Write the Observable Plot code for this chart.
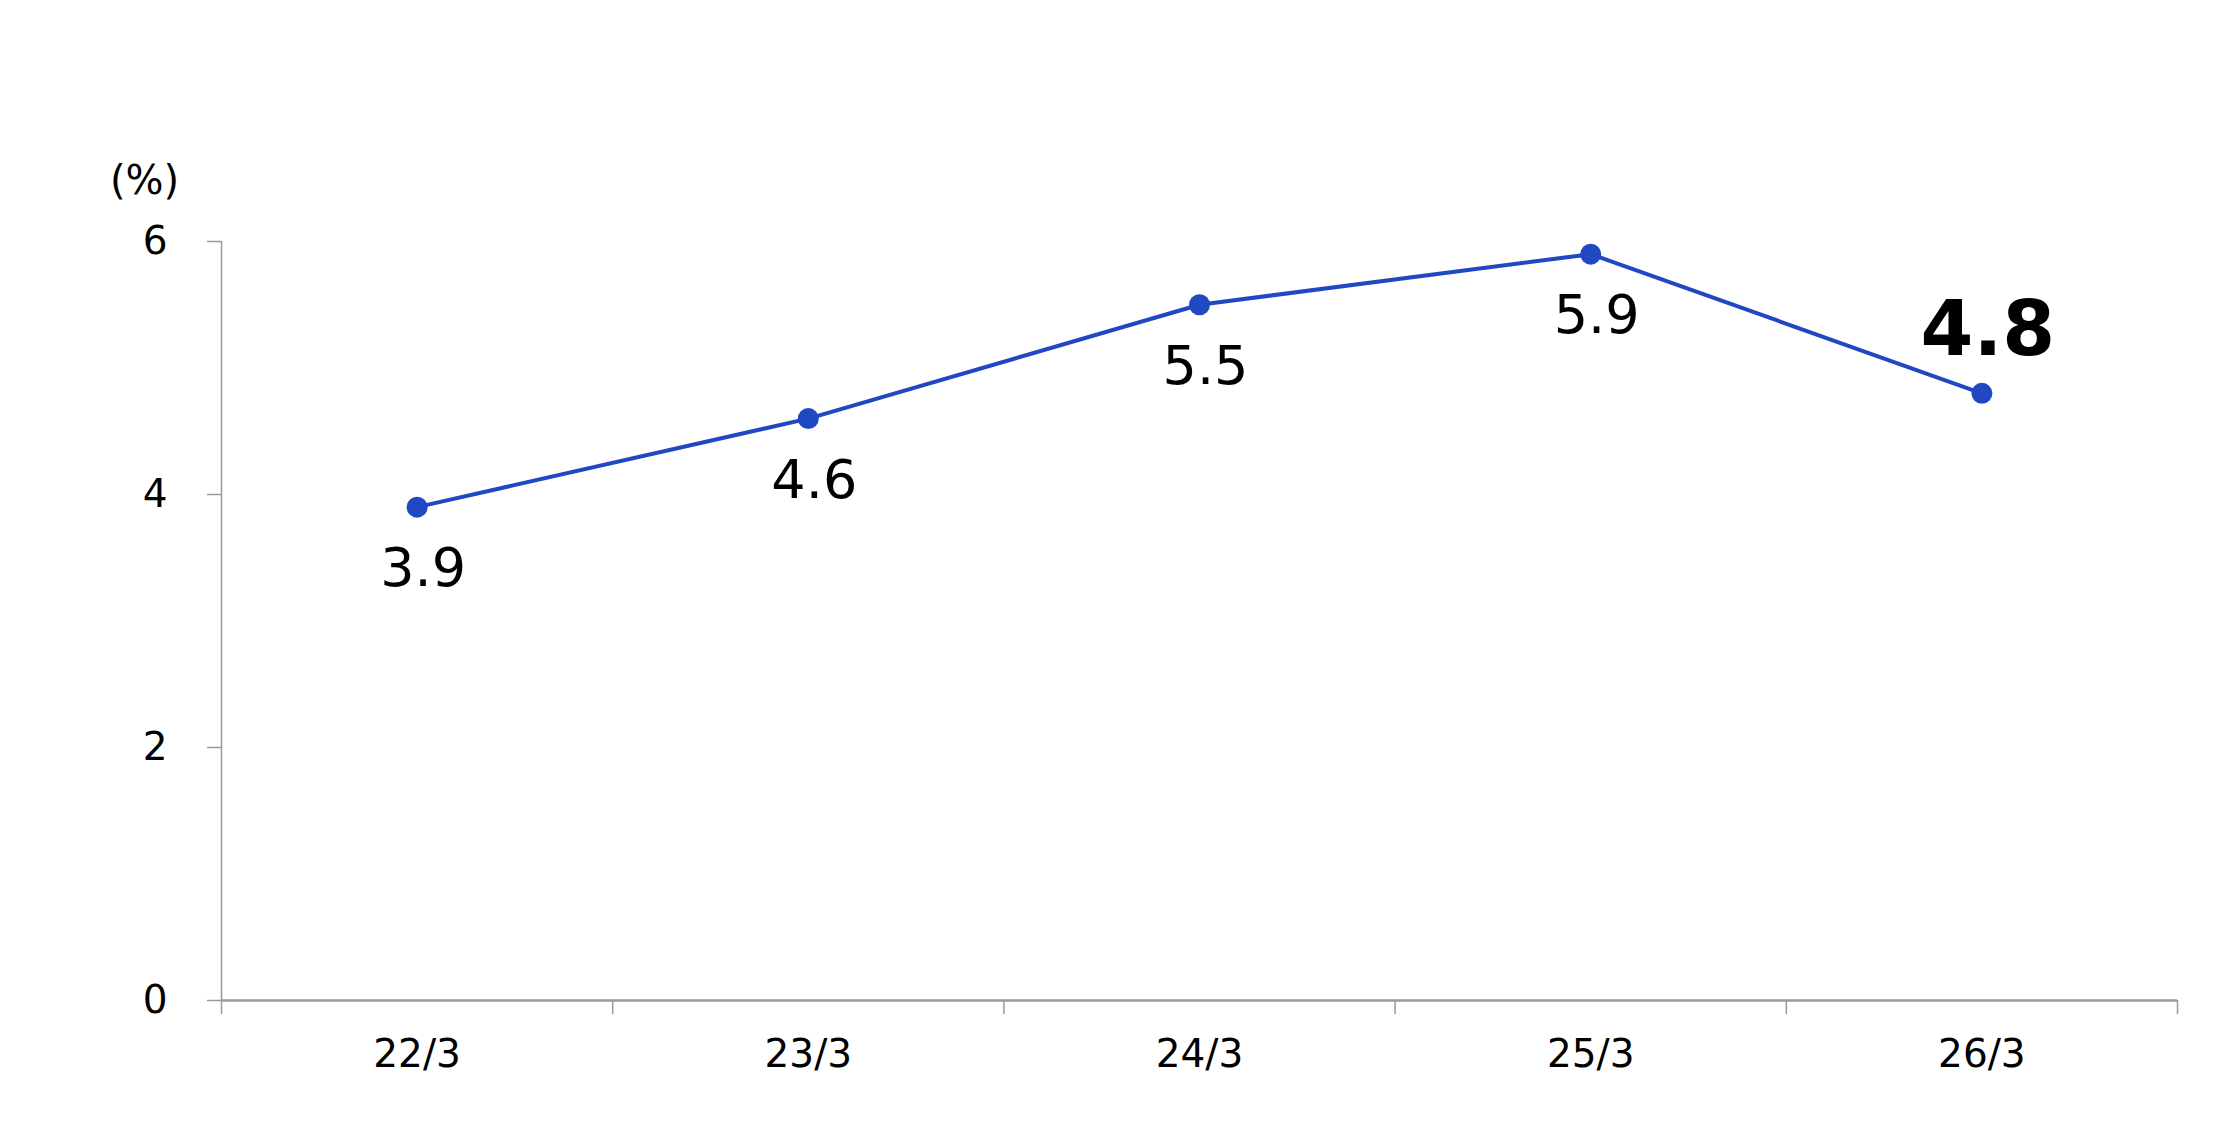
<!DOCTYPE html>
<html>
<head>
<meta charset="utf-8">
<script src="https://cdn.jsdelivr.net/npm/d3@7"></script>
<script src="https://cdn.jsdelivr.net/npm/@observablehq/plot@0.6"></script>
<style>
  html, body { margin: 0; padding: 0; background: #fff; }
  #chart svg { display: block; }
</style>
</head>
<body>
<div id="chart"></div>
<script>
const categories = ["22/3", "23/3", "24/3", "25/3", "26/3"];
const values = [3.9, 4.6, 5.5, 5.9, 4.8];
const yTicks = [0, 2, 4, 6];
const unitLabel = "(%)";
const highlightIndex = 4;

const rows = categories.map((c, i) => ({ i, c, v: values[i], label: values[i].toFixed(1) }));
const centers = categories.map((c, i) => i);
const boundaries = [...centers.map(i => i - 0.5), categories.length - 0.5];

const axisGray = "#9a9a9a";
const lineBlue = "#1f48c2";

const chart = Plot.plot({
  width: 2240,
  height: 1140,
  marginLeft: 221,
  marginRight: 63,
  marginTop: 241,
  marginBottom: 140,
  style: { fontFamily: "DejaVu Sans, Verdana, sans-serif", background: "#fff", color: "#000" },
  x: { type: "linear", domain: [-0.5, categories.length - 0.5] },
  y: { domain: [0, 6] },
  marks: [
    Plot.ruleX([-0.5], { y1: 0, y2: 6, stroke: axisGray, strokeWidth: 1.5 }),
    Plot.ruleY([0], { x1: -0.5, x2: categories.length - 0.5, stroke: axisGray, strokeWidth: 2.5 }),
    Plot.axisY({ ticks: yTicks, tickSize: 14, tickPadding: 40, fontSize: 39, stroke: axisGray, strokeWidth: 1.5, fill: "#000", tickFormat: d => String(d), label: null }),
    Plot.axisX({ ticks: boundaries, tickSize: 14, stroke: axisGray, strokeWidth: 1.5, fill: "none", label: null }),
    Plot.axisX({ ticks: centers, tickSize: 0, tickPadding: 39, fontSize: 39, fill: "#000", tickFormat: i => categories[i], label: null }),
    Plot.line(rows, { x: "i", y: "v", stroke: lineBlue, strokeWidth: 4 }),
    Plot.dot(rows, { x: "i", y: "v", r: 10.5, fill: lineBlue, stroke: "none" }),
    Plot.text(rows.filter(d => d.i !== highlightIndex), {
      x: "i", y: "v", text: "label", fontSize: 54, fill: "#000",
      lineAnchor: "bottom", textAnchor: "middle", dy: 79, dx: 6
    }),
    Plot.text(rows.filter(d => d.i === highlightIndex), {
      x: "i", y: "v", text: "label", fontSize: 76, fontWeight: "bold", fill: "#000",
      lineAnchor: "bottom", textAnchor: "middle", dy: -38, dx: 6
    }),
    Plot.text([unitLabel], {
      frameAnchor: "top-left", dx: -77, dy: -60, fontSize: 40, fill: "#000",
      textAnchor: "middle", lineAnchor: "middle"
    })
  ]
});

document.getElementById("chart").appendChild(chart);
</script>
</body>
</html>
